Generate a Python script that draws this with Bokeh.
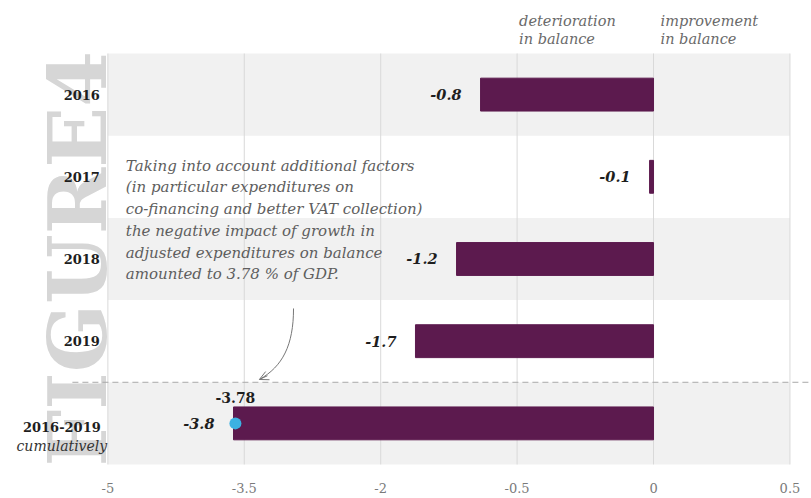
import math
from bokeh.plotting import figure
from bokeh.models import Range1d, Arrow, OpenHead, ColumnDataSource
from bokeh.core.properties import value
from bokeh.embed import file_html
from bokeh.resources import INLINE

# ---------------- data ----------------
categories = ["2016", "2017", "2018", "2019", "2016-2019"]
value_labels = ["-0.8", "-0.1", "-1.2", "-1.7", "-3.8"]
# bar ends as drawn on the chart's (irregularly labelled) axis, in tick-slot units
bar_ends = [-1.268, -0.029, -1.444, -1.745, -3.079]
row_pos = [4, 3, 2, 1, 0]
tick_positions = [-4, -3, -2, -1, 0, 1]
tick_labels = ["-5", "-3.5", "-2", "-0.5", "0", "0.5"]
marker_label = "-3.78"
marker_pos = -3.065
shaded_rows = [4, 2, 0]
note_lines = [
    "Taking into account additional factors",
    "(in particular expenditures on",
    "co-financing and better VAT collection)",
    "the negative impact  of growth in",
    "adjusted expenditures on balance",
    "amounted to 3.78 % of GDP.",
]

FONT = value("DejaVu Serif")
BAR = "#5c1a4e"
X0, X1 = -4, 1          # chart region in x
Y0, Y1 = -0.5, 4.5      # chart region in y

p = figure(width=811, height=498, output_backend="svg", toolbar_location=None,
           x_range=Range1d(-4.787, 1.158), y_range=Range1d(-0.914, 5.145),
           x_axis_location=None, y_axis_location=None,
           min_border_left=0, min_border_right=0, min_border_top=0, min_border_bottom=0)
p.outline_line_color = None
p.background_fill_color = "white"
p.xgrid.visible = False
p.ygrid.visible = False

# shaded row bands
p.hbar(y=shaded_rows, left=X0, right=X1, height=1.0, fill_color="#f1f1f1", line_color=None)

# vertical grid lines at the ticks
p.segment(x0=tick_positions, y0=Y0, x1=tick_positions, y1=Y1,
          line_color="#d9d9d9", line_width=1)

# tick labels
p.text(x=tick_positions, y=Y0 - 0.292, text=tick_labels, text_align="center",
       text_baseline="middle", text_font=FONT, text_font_size="13px", text_color="#7a7a7a")

# watermark
p.text(x=[-4.216], y=[-0.524], text=["FIGURE4"], angle=math.pi / 2,
       text_align="left", text_baseline="middle", text_font=FONT,
       text_font_style="bold", text_font_size="80px", text_color="#d6d6d6")

# dashed separator
p.segment(x0=[-4.26], y0=[0.5], x1=[1.158], y1=[0.5],
          line_color="#a8a8a8", line_width=1, line_dash="6 4")

# bars
src = ColumnDataSource(dict(y=row_pos, right=bar_ends, lab=value_labels))
p.hbar(y="y", left=0, right="right", height=0.4, source=src,
       fill_color=BAR, line_color=BAR)
p.text(x="right", y="y", text="lab", source=src, x_offset=-19,
       text_align="right", text_baseline="middle", text_font=FONT,
       text_font_style="bold italic", text_font_size="14.5px", text_color="#1e1e1e")

# marker
p.scatter(x=[marker_pos], y=[0], size=12, fill_color="#3cb1e2", line_color=None)
p.text(x=[marker_pos], y=[0.32], text=[marker_label], text_align="center",
       text_baseline="middle", text_font=FONT, text_font_style="bold",
       text_font_size="14px", text_color="#1e1e1e")

# category labels
for cat, r in zip(categories, row_pos):
    if cat == "2016-2019":
        p.text(x=[X0], y=[r - 0.05], x_offset=-46, text=[cat], text_align="center",
               text_baseline="middle", text_font=FONT, text_font_style="bold",
               text_font_size="13px", text_color="#1e1e1e")
        p.text(x=[X0], y=[r - 0.28], x_offset=-46, text=["cumulatively"],
               text_align="center", text_baseline="middle", text_font=FONT,
               text_font_style="italic", text_font_size="14px", text_color="#333333")
    else:
        p.text(x=[X0], y=[r], x_offset=-8, text=[cat], text_align="right",
               text_baseline="middle", text_font=FONT, text_font_style="bold",
               text_font_size="13px", text_color="#1e1e1e")

# headers
for xx, off, l1 in [(-1, 2, "deterioration"), (0, 7, "improvement")]:
    p.text(x=[xx, xx], y=[4.9, 4.68], x_offset=off, text=[l1, "in balance"],
           text_align="left", text_baseline="middle", text_font=FONT,
           text_font_style="italic", text_font_size="14.5px", text_color="#6a6a6a")

# note text
p.text(x=[X0] * len(note_lines), y=[3.137 - 0.265 * i for i in range(len(note_lines))],
       x_offset=18, text=note_lines, text_align="left", text_baseline="middle",
       text_font=FONT, text_font_style="italic", text_font_size="15px", text_color="#5e5e5e")

# curved arrow
p.bezier(x0=[-2.639], y0=[1.398], x1=[-2.889], y1=[0.534],
         cx0=[-2.639], cy0=[0.948], cx1=[-2.72], cy1=[0.692],
         line_color="#777777", line_width=1)
p.add_layout(Arrow(end=OpenHead(size=9, line_color="#777777", line_width=1),
                   x_start=-2.83, y_start=0.58, x_end=-2.889, y_end=0.534,
                   line_color="#777777", line_width=1))

open("out.html", "w").write(file_html(p, INLINE))
